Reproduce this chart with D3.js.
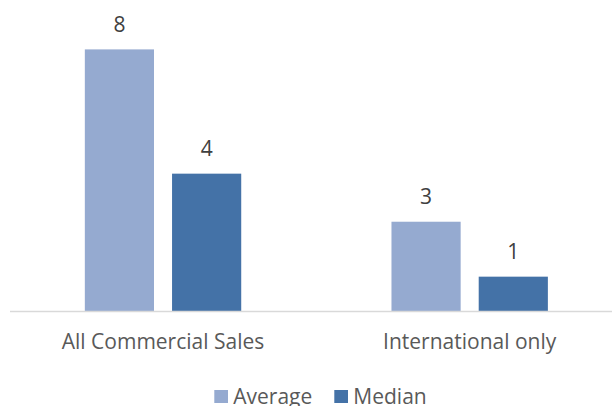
<!DOCTYPE html>
<html>
<head>
<meta charset="utf-8">
<script src="https://cdn.jsdelivr.net/npm/d3@7"></script>
<style>
  body { margin: 0; background: #fff; }
  text { font-family: "Open Sans", sans-serif; }
</style>
</head>
<body>
<script>
// chart data
const categories = ["All Commercial Sales", "International only"];
const seriesNames = ["Average", "Median"];
const averageValues = [8.0, 2.73];
const medianValues = [4.2, 1.05];
const valueLabels = [["8", "4"], ["3", "1"]];
const colors = ["#95AAD0", "#4472A7"];

const WIDTH = 613, HEIGHT = 406;

let svg = d3.select("body").append("svg")
  .attr("width", WIDTH)
  .attr("height", HEIGHT);

// rows for the grouped bars
let rows = categories.map((c, i) => ({
  category: c,
  values: [averageValues[i], medianValues[i]],
  labels: valueLabels[i]
}));

// scales
let x0 = d3.scaleBand()
  .domain(categories)
  .range([9.7, 623])
  .paddingInner(0.49)
  .paddingOuter(0.245);
let x1 = d3.scaleBand()
  .domain(seriesNames)
  .range([0, x0.bandwidth()])
  .paddingInner(0.207);
let y = d3.scaleLinear()
  .domain([0, 9])
  .range([311, 16.7]);

// bars
let groups = svg.selectAll(".group")
  .data(rows)
  .enter().append("g")
  .attr("class", "group")
  .attr("transform", d => "translate(" + x0(d.category) + ",0)");

groups.selectAll("rect")
  .data(d => d.values.map((v, j) => ({ series: seriesNames[j], value: v, label: d.labels[j], j: j })))
  .enter().append("rect")
  .attr("x", d => x1(d.series))
  .attr("y", d => y(d.value))
  .attr("width", x1.bandwidth())
  .attr("height", d => y(0) - y(d.value))
  .attr("fill", d => colors[d.j]);

// value labels
groups.selectAll(".val")
  .data(d => d.values.map((v, j) => ({ series: seriesNames[j], value: v, label: d.labels[j] })))
  .enter().append("text")
  .attr("class", "val")
  .attr("x", d => x1(d.series) + x1.bandwidth() / 2)
  .attr("y", d => y(d.value) - 17.6)
  .attr("text-anchor", "middle")
  .attr("font-size", "21px")
  .attr("fill", "#404040")
  .text(d => d.label);

// horizontal axis line
svg.append("line")
  .attr("x1", 10).attr("x2", 612)
  .attr("y1", y(0) + 0.5).attr("y2", y(0) + 0.5)
  .attr("stroke", "#D9D9D9")
  .attr("stroke-width", 1.3);

// category labels
svg.selectAll(".cat")
  .data(categories)
  .enter().append("text")
  .attr("class", "cat")
  .attr("x", d => x0(d) + x0.bandwidth() / 2)
  .attr("y", 349.3)
  .attr("text-anchor", "middle")
  .attr("font-size", "21px")
  .attr("fill", "#595959")
  .text(d => d);

// legend
let legendX = [214.3, 334.3];
let legend = svg.selectAll(".legend")
  .data(seriesNames)
  .enter().append("g")
  .attr("class", "legend")
  .attr("transform", (d, i) => "translate(" + legendX[i] + ",0)");
legend.append("rect")
  .attr("x", 0).attr("y", 390)
  .attr("width", 13.7).attr("height", 13)
  .attr("fill", (d, i) => colors[i]);
legend.append("text")
  .attr("x", 19)
  .attr("y", 404.3)
  .attr("font-size", "21px")
  .attr("fill", "#595959")
  .text(d => d);
</script>
</body>
</html>
